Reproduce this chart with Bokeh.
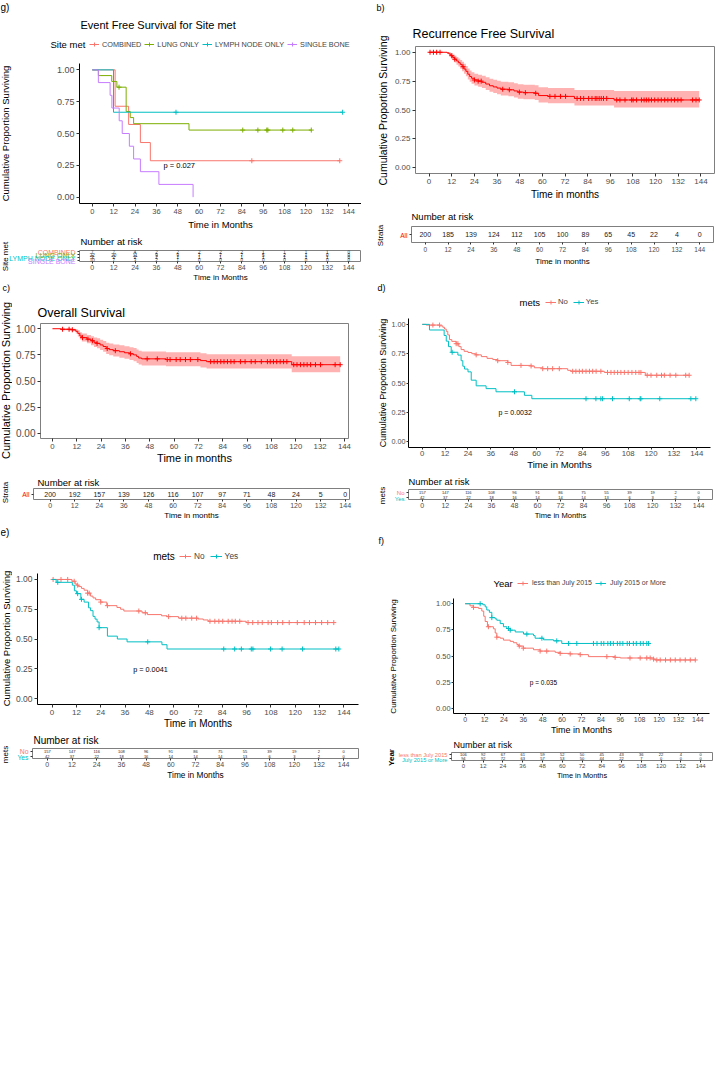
import numpy as np
from bokeh.core.properties import value
from bokeh.embed import file_html
from bokeh.layouts import column, row
from bokeh.models import FixedTicker, Label, Legend, LegendItem, NumeralTickFormatter, Range1d
from bokeh.plotting import figure
from bokeh.resources import INLINE

FONT = "Liberation Sans"
RED, GREEN, CYAN, PURPLE = "#F8766D", "#7CAE00", "#00BFC4", "#C77CFF"
PURE_RED = "#FF0000"
TICK_GREY = "#4D4D4D"

MONTHS = [0, 12, 24, 36, 48, 60, 72, 84, 96, 108, 120, 132, 144]
SURV_TICKS = [0.0, 0.25, 0.5, 0.75, 1.0]
STD_X = (-7.2, 151.2)
SURV_Y = (-0.05, 1.05)
P_X, P_Y = 40.0, 0.245

# ---------------- (g) event free survival by site of metastasis
site_names = ["COMBINED", "LUNG ONLY", "LYMPH NODE ONLY", "SINGLE BONE"]
combined_t = [0, 12.8, 20.4, 27.0, 32.6]
combined_s = [1.0, 0.714, 0.571, 0.429, 0.286]
combined_end = 139.0
combined_cens = [89.6, 139.0]
lung_t = [0, 3.4, 10.9, 13.8, 19.0, 21.3, 23.2, 54.3]
lung_s = [1.0, 0.955, 0.909, 0.864, 0.673, 0.625, 0.577, 0.527]
lung_end = 123.0
lung_cens = [15.0, 84.5, 93.0, 98.0, 98.6, 107.0, 112.6, 123.0]
lymph_t = [0, 11.9]
lymph_s = [1.0, 0.667]
lymph_end = 140.6
lymph_cens = [47.0, 140.6]
single_t = [0, 3.4, 10.0, 11.0, 15.1, 16.8, 20.8, 23.2, 27.0, 37.4, 56.6]
single_s = [1.0, 0.9, 0.8, 0.7, 0.6, 0.5, 0.4, 0.3, 0.2, 0.1, 0.0]
single_end = 56.6
single_cens = []
combined_risk = [7, 7, 4, 2, 2, 2, 2, 2, 1, 1, 1, 1, 0]
lung_risk = [22, 20, 11, 9, 9, 7, 7, 7, 5, 2, 1, 0, 0]
lymph_risk = [3, 2, 2, 2, 1, 1, 1, 1, 1, 1, 1, 1, 0]
single_risk = [10, 7, 3, 2, 1, 0, 0, 0, 0, 0, 0, 0, 0]

# ---------------- (b) recurrence free survival
rfs_t = [0, 9.5, 10.5, 11.5, 12.5, 13.5, 14.5, 15.5, 16.5, 17.5, 18.5, 19.5, 20.5, 21.5, 22.5, 24,
         26, 28, 30, 32, 34, 36, 38, 42, 45, 47, 50, 56, 58, 63, 77, 98]
rfs_s = [1.0, 0.995, 0.985, 0.97, 0.955, 0.94, 0.925, 0.91, 0.895, 0.875, 0.855, 0.835, 0.81, 0.79,
         0.775, 0.76, 0.75, 0.74, 0.725, 0.71, 0.70, 0.69, 0.68, 0.675, 0.665, 0.655, 0.65, 0.645,
         0.625, 0.618, 0.60, 0.587]
rfs_lower = [1.0, 0.985, 0.968, 0.948, 0.930, 0.912, 0.893, 0.876, 0.858, 0.836, 0.814, 0.792, 0.765,
             0.744, 0.728, 0.712, 0.701, 0.690, 0.674, 0.658, 0.647, 0.636, 0.625, 0.620, 0.609,
             0.598, 0.593, 0.587, 0.566, 0.558, 0.538, 0.522]
rfs_upper = [1.0, 1.0, 1.0, 0.992, 0.981, 0.969, 0.958, 0.946, 0.934, 0.917, 0.900, 0.882, 0.860,
             0.842, 0.828, 0.815, 0.806, 0.797, 0.784, 0.771, 0.762, 0.753, 0.744, 0.740, 0.731,
             0.722, 0.718, 0.714, 0.696, 0.690, 0.674, 0.664]
rfs_end = 143.1
rfs_cens = [0.5, 2.3, 4.0, 5.8, 12.0, 13.6, 18.0, 24.0, 26.0, 27.6, 39.0, 42.5, 47.8, 51.0, 56.5,
            64.0, 66.7, 69.6, 72.3, 78.4, 80.2, 81.9, 84.5, 86.3, 88.0, 88.9, 90.1, 91.2, 92.4, 94.1,
            99.4, 101.1, 103.8, 107.3, 108.1, 109.9, 112.5, 113.9, 115.1, 116.4, 117.8, 119.5, 121.3,
            123.0, 124.8, 126.5, 128.3, 130.0, 131.8, 133.5, 139.6, 141.4, 143.1]
rfs_risk = [200, 185, 139, 124, 112, 105, 100, 89, 65, 45, 22, 4, 0]

# ---------------- (c) overall survival
os_t = [0, 4.1, 9.5, 11.5, 12.5, 13.5, 14.5, 17, 19, 20.5, 22, 23.5, 25, 26.5, 28, 30, 33, 35.5, 38,
        40, 41.5, 42.5, 44, 56, 73, 76, 118]
os_s = [1.0, 0.995, 0.99, 0.975, 0.955, 0.93, 0.915, 0.90, 0.885, 0.87, 0.86, 0.845, 0.83, 0.81,
        0.80, 0.79, 0.78, 0.77, 0.76, 0.75, 0.735, 0.72, 0.712, 0.705, 0.695, 0.685, 0.656]
os_lower = [1.0, 0.985, 0.976, 0.954, 0.926, 0.896, 0.878, 0.861, 0.843, 0.826, 0.814, 0.797, 0.780,
            0.758, 0.746, 0.735, 0.723, 0.712, 0.700, 0.689, 0.673, 0.657, 0.648, 0.640, 0.629,
            0.619, 0.584]
os_upper = [1.0, 1.0, 1.0, 0.996, 0.985, 0.966, 0.954, 0.941, 0.929, 0.916, 0.908, 0.895, 0.883,
            0.866, 0.858, 0.849, 0.841, 0.832, 0.824, 0.815, 0.802, 0.790, 0.782, 0.776, 0.766,
            0.756, 0.737]
os_end = 141.9
os_cens = [5.0, 8.2, 9.8, 14.8, 17.5, 19.7, 22.0, 27.0, 31.0, 38.5, 46.7, 51.7, 56.6, 58.0, 61.0,
           63.0, 65.6, 68.0, 71.7, 78.0, 79.7, 81.3, 83.0, 84.6, 86.3, 88.0, 89.6, 92.7, 95.0, 98.0,
           100.0, 103.0, 106.0, 107.4, 109.0, 110.6, 112.3, 114.0, 115.6, 119.0, 120.6, 122.3,
           124.0, 125.6, 127.3, 129.7, 132.2, 139.4, 141.9]
os_risk = [200, 192, 157, 139, 126, 116, 107, 97, 71, 48, 24, 5, 0]

# ---------------- (d) survival by metastasis status
d_no_t = [0, 2.1, 9.2, 10.8, 11.7, 12.6, 13.4, 14.3, 15.5, 17.8, 19.2, 20.4, 22.0, 24.0, 26.0, 28.0,
          31.0, 34.0, 37.0, 39.6, 44.9, 46.6, 57.0, 58.8, 63.2, 76.3, 78.0, 95.5, 117.0]
d_no_s = [1.0, 0.994, 0.987, 0.975, 0.96, 0.94, 0.91, 0.87, 0.855, 0.835, 0.81, 0.785, 0.77, 0.76,
          0.75, 0.74, 0.725, 0.71, 0.70, 0.69, 0.675, 0.65, 0.645, 0.63, 0.622, 0.608, 0.60, 0.59,
          0.566]
d_no_end = 140.0
d_no_cens = [5.6, 9.1, 17.8, 18.7, 28.3, 39.6, 44.9, 51.8, 57.1, 63.2, 65.8, 68.4, 71.9, 78.9, 80.6,
             82.4, 84.0, 85.9, 87.7, 89.4, 91.2, 93.7, 97.2, 99.0, 100.7, 102.5, 104.2, 106.0,
             108.0, 110.0, 112.0, 113.7, 114.7, 118.0, 120.0, 123.0, 125.5, 127.0, 130.0, 133.0,
             138.2, 140.0]
d_yes_t = [0, 3.8, 11.5, 12.6, 13.8, 15.2, 18.7, 20.4, 21.3, 22.2, 24.0, 25.7, 28.3, 33.5, 38.7,
           53.6, 57.5]
d_yes_s = [1.0, 0.952, 0.905, 0.857, 0.81, 0.762, 0.738, 0.69, 0.643, 0.619, 0.595, 0.524, 0.476,
           0.452, 0.425, 0.395, 0.366]
d_yes_end = 143.5
d_yes_cens = [15.7, 48.4, 85.9, 91.1, 93.7, 94.6, 99.8, 108.6, 114.3, 114.7, 124.6, 140.9, 143.5]
d_no_risk = [157, 147, 116, 108, 96, 91, 86, 75, 55, 39, 19, 2, 0]
d_yes_risk = [42, 37, 22, 18, 16, 14, 14, 14, 13, 6, 3, 2, 0]

# ---------------- (e) survival by metastasis status
e_no_t = [0, 9.8, 11.4, 12.2, 13.0, 14.5, 15.8, 17.5, 19.0, 20.2, 21.5, 24.0, 27.0, 32.0, 33.8, 35.4,
          44.4, 47.0, 54.0, 56.7, 62.4, 72.0, 74.6, 77.0, 95.8]
e_no_s = [1.0, 0.985, 0.963, 0.952, 0.94, 0.925, 0.91, 0.885, 0.86, 0.845, 0.83, 0.81, 0.78, 0.765,
          0.75, 0.735, 0.72, 0.705, 0.695, 0.688, 0.675, 0.668, 0.66, 0.649, 0.638]
e_no_end = 139.0
e_no_cens = [0.5, 4.4, 7.7, 10.9, 12.6, 17.5, 18.3, 24.0, 27.3, 42.8, 46.0, 57.5, 64.0, 66.0, 68.9,
             71.3, 77.9, 80.3, 82.3, 84.2, 86.9, 88.8, 90.4, 92.6, 96.7, 99.0, 101.6, 103.7, 106.6,
             108.2, 111.3, 113.8, 117.0, 121.0, 124.4, 127.0, 130.0, 133.0, 136.0, 139.0]
e_yes_t = [0, 2.0, 10.0, 11.0, 12.0, 14.2, 15.8, 18.0, 19.0, 20.2, 21.2, 22.2, 23.2, 27.3, 32.2,
           37.0, 54.2, 56.7]
e_yes_s = [1.0, 0.976, 0.952, 0.905, 0.881, 0.833, 0.81, 0.762, 0.738, 0.69, 0.667, 0.643, 0.595,
           0.524, 0.5, 0.476, 0.452, 0.416]
e_yes_end = 141.5
e_yes_cens = [2.8, 12.6, 14.5, 23.2, 47.2, 84.7, 90.1, 93.4, 98.3, 99.1, 107.8, 113.5, 123.6, 140.0,
              141.5]
e_no_risk = [157, 147, 116, 108, 96, 91, 86, 75, 55, 39, 19, 2, 0]
e_yes_risk = [42, 37, 22, 18, 16, 14, 14, 14, 13, 6, 3, 2, 0]

# ---------------- (f) survival by year of surgery
f_less_t = [0, 3.0, 5.0, 8.3, 10.3, 11.5, 12.4, 13.8, 17.5, 18.6, 19.6, 21.7, 23.7, 27.9, 29.9, 32.0,
            33.0, 36.0, 42.3, 46.4, 55.7, 58.8, 65.0, 71.2, 76.3, 92.8, 96.0, 116.6, 117.6]
f_less_s = [1.0, 0.98, 0.965, 0.955, 0.93, 0.88, 0.83, 0.78, 0.76, 0.72, 0.68, 0.67, 0.652, 0.64,
            0.627, 0.61, 0.595, 0.575, 0.56, 0.547, 0.535, 0.525, 0.52, 0.513, 0.494, 0.487, 0.481,
            0.47, 0.462]
f_less_end = 142.4
f_less_cens = [5.2, 14.4, 19.6, 33.5, 36.0, 46.4, 50.5, 58.8, 65.0, 71.2, 87.7, 92.8, 102.0, 108.3,
               112.4, 114.5, 116.6, 118.6, 120.7, 124.0, 127.0, 130.0, 133.0, 136.2, 139.3, 142.4]
f_more_t = [0, 11.0, 12.4, 13.4, 15.0, 16.5, 18.6, 19.6, 21.7, 23.7, 25.8, 27.9, 31.0, 36.1, 42.3,
            43.3, 48.5, 54.7, 59.8]
f_more_s = [1.0, 0.99, 0.97, 0.94, 0.918, 0.867, 0.855, 0.842, 0.81, 0.78, 0.763, 0.747, 0.73, 0.71,
            0.695, 0.67, 0.655, 0.645, 0.62]
f_more_end = 113.5
f_more_cens = [9.3, 16.5, 26.8, 27.9, 38.2, 47.5, 56.7, 64.0, 69.1, 79.4, 81.6, 84.2, 85.8, 88.3,
               89.9, 91.7, 94.2, 95.8, 97.6, 100.3, 101.7, 104.1, 105.9, 108.4, 110.2, 112.4, 113.5]
f_less_risk = [106, 92, 67, 61, 59, 52, 50, 45, 43, 36, 22, 4, 0]
f_more_risk = [94, 92, 72, 63, 57, 53, 50, 44, 22, 7, 0, 0, 0]

SURV_LABEL = "Cumulative Proportion Surviving"


class Pad:
    """Axis-free text area whose data units are page pixels (origin at its top-left)."""

    def __init__(self, ox, oy, w, h):
        self.ox, self.oy, self.w, self.h = ox, oy, w, h
        self.fig = figure(width=w, height=h, x_range=Range1d(0, w), y_range=Range1d(h, 0),
                          toolbar_location=None, output_backend="svg", min_border=0,
                          x_axis_location=None, y_axis_location=None)
        self.fig.outline_line_color = None
        self.fig.grid.visible = False

    def text(self, px, py, text, size, color="black", align="left", vertical=False, style="normal"):
        self.fig.add_layout(Label(x=px - self.ox, y=py - self.oy, text=text, text_font=FONT,
                                  text_font_size=f"{size}px", text_color=color, text_align=align,
                                  text_baseline="middle", angle=np.pi / 2 if vertical else 0,
                                  text_font_style=style))

    def legend(self, title, title_x, title_size, entries, glyph_x, cy, label_size, glyph_w,
               standoff, spacing):
        self.text(title_x, cy, title, title_size)
        items = []
        blank = np.array([np.nan])
        for label, color in entries:
            # key-only renderers: they hold no visible points, the legend draws their style
            line = self.fig.line(x=blank, y=blank, line_color=color, line_width=1)
            mark = self.fig.scatter(x=blank, y=blank, marker="cross", size=5, line_color=color,
                                    line_width=1)
            items.append(LegendItem(label=label, renderers=[line, mark]))
        h = 10
        self.fig.add_layout(Legend(
            items=items, orientation="horizontal",
            location=(glyph_x - self.ox, self.h - (cy - self.oy + h / 2)),
            padding=0, margin=0, spacing=spacing, glyph_width=glyph_w, glyph_height=h,
            label_height=h, label_width=1, label_standoff=standoff, label_text_font=FONT,
            label_text_font_size=f"{label_size}px", background_fill_alpha=0,
            border_line_color=None), "center")


def base_figure(w, h, bl, bt, br, bb, xr, yr, boxed):
    p = figure(width=w, height=h, x_range=Range1d(*xr), y_range=Range1d(*yr),
               toolbar_location=None, output_backend="svg",
               min_border_left=bl, min_border_top=bt, min_border_right=br, min_border_bottom=bb)
    p.grid.visible = False
    p.outline_line_color = "#7F7F7F" if boxed else None
    p.axis.minor_tick_line_color = None
    p.axis.major_tick_in = 0
    p.axis.major_tick_out = 3
    p.axis.major_tick_line_color = "#333333"
    p.axis.axis_line_color = None if boxed else "black"
    p.axis.major_label_text_font = FONT
    p.axis.major_label_text_color = TICK_GREY
    p.axis.major_label_standoff = 2
    p.axis.axis_label_text_font = FONT
    p.axis.axis_label_text_font_style = "normal"
    p.axis.axis_label_text_color = "black"
    p.xaxis.ticker = FixedTicker(ticks=MONTHS)
    return p


class Component:
    """A plot frame placed at given page pixels, with a text strip on its left and a header above."""

    def __init__(self, col_x, top, width, height, frame_left, frame_top, fw, fh, strip_w, pad_top,
                 xr, yr, boxed):
        hh = frame_top - top - pad_top
        self.strip = Pad(col_x, top, strip_w, height)
        self.header = Pad(col_x + strip_w, top, width - strip_w, hh)
        fig_w, fig_h = width - strip_w, height - hh
        bl = frame_left - col_x - strip_w
        self.fig = base_figure(fig_w, fig_h, bl, pad_top, fig_w - bl - fw, fig_h - pad_top - fh,
                               xr, yr, boxed)
        self.frame_left, self.frame_top, self.fh = frame_left, frame_top, fh
        # the plot sits in its own row so its frame is not aligned with the header's
        self.layout = row(self.strip.fig, column(self.header.fig, row(self.fig)))


def km_component(geom, xr, boxed, ytick_size, xtick_size, xlabel, xlabel_size, xlabel_standoff,
                 tick_out=3, tick_standoff=2):
    comp = Component(*geom, xr, SURV_Y, boxed)
    p = comp.fig
    p.yaxis.ticker = FixedTicker(ticks=SURV_TICKS)
    p.yaxis.formatter = NumeralTickFormatter(format="0.00")
    p.yaxis.major_label_text_font_size = f"{ytick_size}px"
    p.xaxis.major_label_text_font_size = f"{xtick_size}px"
    p.axis.major_tick_out = tick_out
    p.axis.major_label_standoff = tick_standoff
    p.xaxis.axis_label = xlabel
    p.xaxis.axis_label_text_font_size = f"{xlabel_size}px"
    p.xaxis.axis_label_standoff = xlabel_standoff
    return comp


def draw_curve(p, times, surv, end, censored, color, lower=None, upper=None):
    if lower is not None:
        xs = np.repeat(list(times) + [end], 2)[1:-1]
        p.varea(x=xs, y1=np.repeat(lower, 2), y2=np.repeat(upper, 2),
                fill_color=color, fill_alpha=0.3)
    p.step(x=list(times) + [end], y=list(surv) + [surv[-1]], mode="after",
           line_color=color, line_width=1)
    if len(censored):
        idx = np.searchsorted(times, censored, side="right") - 1
        p.scatter(x=list(censored), y=list(np.asarray(surv)[idx]), marker="cross", size=5,
                  line_color=color, line_width=1)


def p_value(p, text, size):
    p.add_layout(Label(x=P_X, y=P_Y, text=text, text_font=FONT, text_font_size=f"{size}px",
                       text_color="black", text_align="left", text_baseline="middle"))


def risk_component(geom, xr, names, colors, counts, count_size, name_size, tick_size, xlabel,
                   xlabel_size, xlabel_standoff, tick_standoff=1):
    n = len(names)
    comp = Component(*geom, xr, (0.5, n + 0.5), True)
    p = comp.fig
    rows_y = list(range(n, 0, -1))
    p.yaxis.ticker = FixedTicker(ticks=rows_y)
    p.yaxis.major_label_overrides = {y: "" for y in rows_y}
    p.yaxis.major_label_standoff = 0
    p.axis.major_tick_out = 2
    p.xaxis.major_label_text_font_size = f"{tick_size}px"
    p.xaxis.major_label_standoff = tick_standoff
    p.xaxis.axis_label = xlabel
    p.xaxis.axis_label_text_font_size = f"{xlabel_size}px"
    p.xaxis.axis_label_standoff = xlabel_standoff
    for k, (name, color, y, cnt) in enumerate(zip(names, colors, rows_y, counts)):
        p.text(x=MONTHS, y=[y] * len(MONTHS), text=[str(c) for c in cnt],
               text_font=value(FONT), text_font_size=value(f"{count_size}px"),
               text_align="center", text_baseline="middle", text_color="#1A1A1A")
        comp.strip.text(comp.frame_left - 4, comp.frame_top + comp.fh * (k + 0.5) / n, name,
                        name_size, color=color, align="right")
    return comp


# ======================= left column =======================
# (g)
g = km_component((0, 0, 361, 232, 79, 63, 282, 140, 45, 3), STD_X, False, 9, 7.5,
                 "Time in Months", 9.5, 2)
draw_curve(g.fig, combined_t, combined_s, combined_end, combined_cens, RED)
draw_curve(g.fig, lung_t, lung_s, lung_end, lung_cens, GREEN)
draw_curve(g.fig, lymph_t, lymph_s, lymph_end, lymph_cens, CYAN)
draw_curve(g.fig, single_t, single_s, single_end, single_cens, PURPLE)
p_value(g.fig, "p = 0.027", 7.5)
g.strip.text(0, 7, "g)", 10)
g.strip.text(5, 133, SURV_LABEL, 9.5, align="center", vertical=True)
g.header.text(80, 24, "Event Free Survival for Site met", 11)
g.header.legend("Site met", 50, 9.5, list(zip(site_names, [RED, GREEN, CYAN, PURPLE])),
                89, 44, 7.3, 10, 3, 3)

gt = risk_component((0, 232, 361, 52, 79, 250, 282, 12, 76, 1), STD_X, site_names,
                    [RED, GREEN, CYAN, PURPLE],
                    [combined_risk, lung_risk, lymph_risk, single_risk], 4.5, 7, 7,
                    "Time in Months", 8, 0)
gt.header.text(80, 240.5, "Number at risk", 9.5)
gt.strip.text(5, 256, "Site met", 8, align="center", vertical=True)

# (c)
c = km_component((0, 284, 361, 182, 40, 323, 308, 115, 12, 3), (-5.9, 146.0), True, 10, 7.8,
                 "Time in months", 11, 0)
draw_curve(c.fig, os_t, os_s, os_end, os_cens, PURE_RED, os_lower, os_upper)
c.strip.text(2, 287, "c)", 9)
c.strip.text(5, 380, SURV_LABEL, 11, align="center", vertical=True)
c.header.text(37, 312.5, "Overall Survival", 12.5)

ct = risk_component((0, 466, 361, 56, 33, 488, 316, 12, 30, 1), (-8.1, 146.1), ["All"],
                    [PURE_RED], [os_risk], 7, 6.5, 7, "Time in months", 8, 0)
ct.header.text(37, 481.5, "Number at risk", 9.5)
ct.strip.text(5, 492, "Strata", 8, align="center", vertical=True)

# (e)
e = km_component((0, 522, 361, 210, 34, 573, 324, 131, 12, 3), STD_X, False, 8.5, 8,
                 "Time in Months", 10, 0)
draw_curve(e.fig, e_no_t, e_no_s, e_no_end, e_no_cens, RED)
draw_curve(e.fig, e_yes_t, e_yes_s, e_yes_end, e_yes_cens, CYAN)
p_value(e.fig, "p = 0.0041", 7.3)
e.strip.text(0, 531.5, "e)", 10)
e.strip.text(5.5, 638, SURV_LABEL, 9.5, align="center", vertical=True)
e.header.legend("mets", 152.7, 10, [("No", RED), ("Yes", CYAN)], 179, 556, 8.3, 12, 3, 5)

et = risk_component((0, 732, 361, 50, 32, 748, 326, 12, 29, 1), STD_X, ["No", "Yes"],
                    [RED, CYAN], [e_no_risk, e_yes_risk], 4, 6.8, 7, "Time in Months", 8.3, 0)
et.header.text(33, 739.5, "Number at risk", 10)
et.strip.text(5, 754, "mets", 8, align="center", vertical=True)

# ======================= right column =======================
# (b)
b = km_component((361, 0, 356, 202, 412, 46, 302, 128, 30, 3), STD_X, True, 8, 8,
                 "Time in months", 10, 2)
draw_curve(b.fig, rfs_t, rfs_s, rfs_end, rfs_cens, PURE_RED, rfs_lower, rfs_upper)
b.strip.text(376, 7, "b)", 9)
b.strip.text(382, 110, SURV_LABEL, 10.5, align="center", vertical=True)
b.header.text(412, 33.3, "Recurrence Free Survival", 12.5)

bt = risk_component((361, 202, 356, 66, 411, 226, 302, 18, 47, 1), STD_X, ["All"], [PURE_RED],
                    [rfs_risk], 7, 6.5, 6.5, "Time in months", 8, 2, tick_standoff=2)
bt.header.text(411, 216, "Number at risk", 9.5)
bt.strip.text(380, 235, "Strata", 8, align="center", vertical=True)

# (d)
d = km_component((361, 268, 356, 204, 408, 318, 302, 129, 27, 3), STD_X, False, 7.2, 7.8,
                 "Time in Months", 9.5, 0, tick_out=2, tick_standoff=1)
draw_curve(d.fig, d_no_t, d_no_s, d_no_end, d_no_cens, RED)
draw_curve(d.fig, d_yes_t, d_yes_s, d_yes_end, d_yes_cens, CYAN)
p_value(d.fig, "p = 0.0032", 7)
d.strip.text(377, 287, "d)", 9)
d.strip.text(382, 382.5, SURV_LABEL, 9, align="center", vertical=True)
d.header.legend("mets", 519, 9.5, [("No", RED), ("Yes", CYAN)], 545, 301.7, 7.7, 11, 2, 5)

dt = risk_component((361, 472, 356, 50, 408, 489, 304, 12, 44, 1), STD_X, ["No", "Yes"],
                    [RED, CYAN], [d_no_risk, d_yes_risk], 4, 6, 7, "Time in Months", 7.6, 0)
dt.header.text(408, 481, "Number at risk", 9.4)
dt.strip.text(382, 495, "mets", 8, align="center", vertical=True)

# (f)
f = km_component((361, 522, 356, 215, 453, 598, 256, 116, 60, 3), STD_X, False, 7.4, 7,
                 "Time in Months", 9, 0, tick_out=2, tick_standoff=1)
draw_curve(f.fig, f_less_t, f_less_s, f_less_end, f_less_cens, RED)
draw_curve(f.fig, f_more_t, f_more_s, f_more_end, f_more_cens, CYAN)
p_value(f.fig, "p = 0.035", 6.5)
f.strip.text(378, 540, "f)", 9)
f.strip.text(392.5, 656, SURV_LABEL, 8, align="center", vertical=True)
f.header.legend("Year", 493, 9.5, [("less than July 2015", RED), ("July 2015 or More", CYAN)],
                517, 582.7, 7, 11, 4, 3)

ft = risk_component((361, 737, 356, 45, 451, 752, 261, 10, 87, 1), STD_X,
                    ["less than July 2015", "July 2015 or More"], [RED, CYAN],
                    [f_less_risk, f_more_risk], 4, 5.7, 6, "Time in Months", 7.4, 0)
ft.header.text(453, 744, "Number at risk", 9)
ft.strip.text(391, 757, "Year", 8, align="center", vertical=True, style="bold")

page = row(column(g.layout, gt.layout, c.layout, ct.layout, e.layout, et.layout),
           column(b.layout, bt.layout, d.layout, dt.layout, f.layout, ft.layout))
open("out.html", "w").write(file_html(page, INLINE, title="Survival analysis"))
